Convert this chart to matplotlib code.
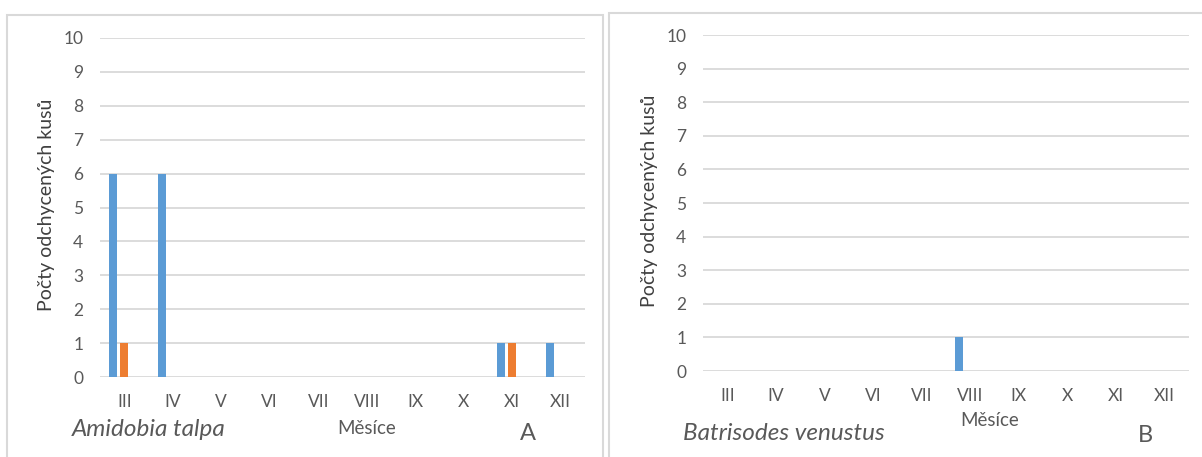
import numpy as np
import matplotlib.pyplot as plt
from matplotlib.patches import Rectangle

# data
months = ["III", "IV", "V", "VI", "VII", "VIII", "IX", "X", "XI", "XII"]
talpa_s1 = [6, 6, 0, 0, 0, 0, 0, 0, 1, 1]
talpa_s2 = [1, 0, 0, 0, 0, 0, 0, 0, 1, 0]
talpa_s3 = [0, 0, 0, 0, 0, 0, 0, 0, 0, 0]
venustus_s1 = [0, 0, 0, 0, 0, 1, 0, 0, 0, 0]
venustus_s2 = [0, 0, 0, 0, 0, 0, 0, 0, 0, 0]
venustus_s3 = [0, 0, 0, 0, 0, 0, 0, 0, 0, 0]
y_ticks = list(range(0, 11))

plt.rcParams['font.family'] = ['Lato', 'DejaVu Sans']
grey = "#595959"
colors = ["#5B9BD5", "#ED7D31", "#A5A5A5"]

fig = plt.figure(figsize=(12.02, 4.57), dpi=100)

# panel borders
fig.patches.append(Rectangle((7/1202, -0.05), 596/1202, 1 - 15/457 + 0.05,
                             transform=fig.transFigure, fill=False,
                             edgecolor="#D9D9D9", lw=1.5))
fig.patches.append(Rectangle((609/1202, -0.05), 0.6, 1 - 13/457 + 0.05,
                             transform=fig.transFigure, fill=False,
                             edgecolor="#D9D9D9", lw=1.5))


def panel(rect, series):
    ax = fig.add_axes(rect)
    x = np.arange(len(months))
    w = 0.17
    off = 0.228
    for i, s in enumerate(series):
        ax.bar(x + (i - 1) * off, s, width=w, color=colors[i], zorder=3)
    ax.set_xlim(-0.5, len(months) - 0.5)
    ax.set_ylim(0, 10)
    ax.set_yticks(y_ticks)
    ax.set_xticks(x)
    ax.set_xticklabels(months)
    ax.yaxis.grid(True, color="#D9D9D9", lw=1.3, zorder=0)
    ax.set_axisbelow(True)
    for sp in ax.spines.values():
        sp.set_visible(False)
    ax.tick_params(length=0, labelsize=12.5, colors=grey)
    ax.tick_params(axis="x", pad=12)
    ax.tick_params(axis="y", pad=12)
    return ax


ax1 = panel([100/1202, 1 - 377/457, 485/1202, 339/457],
            [talpa_s1, talpa_s2, talpa_s3])
ax2 = panel([703/1202, 1 - 371/457, 486/1202, 336/457],
            [venustus_s1, venustus_s2, venustus_s3])

ylab = "Počty odchycených kusů"
fig.text(47/1202, 1 - 205/457, ylab, rotation=90, fontsize=14, color="#404040",
         ha="center", va="center")
fig.text(650/1202, 1 - 201/457, ylab, rotation=90, fontsize=14, color="#404040",
         ha="center", va="center")

fig.text(367/1202, 1 - 428/457, "Měsíce", fontsize=13.5, color=grey, ha="center", va="center")
fig.text(72/1202, 1 - 430/457, "Amidobia talpa", fontsize=17.5, style="italic",
         color=grey, ha="left", va="center")
fig.text(528/1202, 1 - 433/457, "A", fontsize=17, color=grey, ha="center", va="center")

fig.text(990/1202, 1 - 421/457, "Měsíce", fontsize=13.5, color=grey, ha="center", va="center")
fig.text(683/1202, 1 - 433/457, "Batrisodes venustus", fontsize=17.5, style="italic",
         color=grey, ha="left", va="center")
fig.text(1145/1202, 1 - 436/457, "B", fontsize=17, color=grey, ha="center", va="center")

fig.savefig("out.png", dpi=100, facecolor="white")
